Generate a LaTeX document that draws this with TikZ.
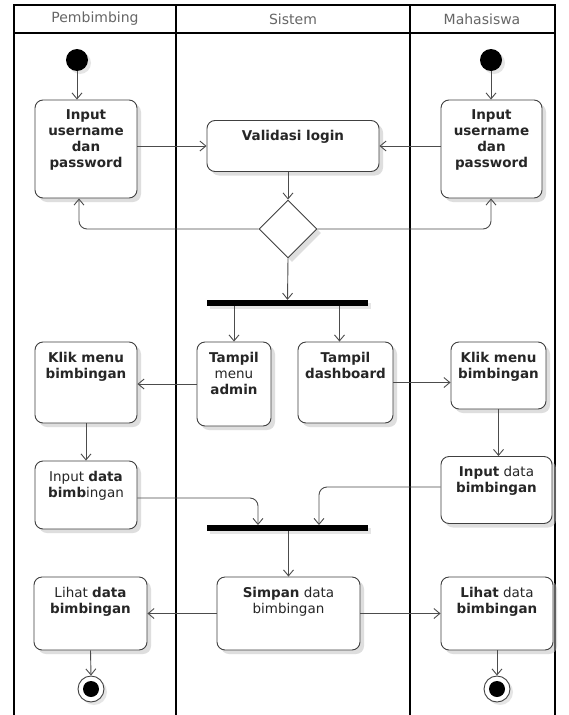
\documentclass[tikz,border=0pt]{standalone}
\usepackage{fontspec}
\setmainfont{DejaVu Sans}
\usetikzlibrary{arrows.meta,shapes.geometric,shadows,calc}
\begin{document}
\begin{tikzpicture}[x=1pt,y=-1pt,
  act/.style={draw=black!75, line width=0.9pt, rounded corners=8pt, fill=white,
    drop shadow={shadow xshift=4pt,shadow yshift=-4pt,fill=black!25,opacity=0.5}, inner sep=0pt},
  lbl/.style={anchor=north, align=center, inner sep=0pt, font=\fontsize{13.5}{16}\selectfont, text=black!85},
  flow/.style={draw=black!70, line width=0.9pt, -{Straight Barb[length=6pt,width=10pt,line width=0.9pt]}},
  bar/.style={fill=black, inner sep=0pt, minimum height=6pt,
    drop shadow={shadow xshift=3pt,shadow yshift=-3pt,fill=black!20,opacity=0.5}},
  lane/.style={draw=black, line width=1.3pt},
  hdr/.style={font=\fontsize{14}{16}\selectfont, text=black!60},
  startdot/.style={circle, fill=black, minimum size=22pt, inner sep=0pt,
    drop shadow={shadow xshift=3pt,shadow yshift=-3pt,fill=black!20,opacity=0.5}},
  endring/.style={circle, draw=black!75, line width=0.9pt, fill=white, minimum size=26pt, inner sep=0pt,
    drop shadow={shadow xshift=3pt,shadow yshift=-3pt,fill=black!20,opacity=0.5}},
  enddot/.style={circle, fill=black, minimum size=16pt, inner sep=0pt}
]
\useasboundingbox (0,0) rectangle (569,715);
\fill[white] (0,0) rectangle (569,715);

% swimlanes
\draw[lane] (14,5) rectangle (555,720);
\draw[lane] (176,5) -- (176,720);
\draw[lane] (410,5) -- (410,720);
\draw[lane] (14,33) -- (555,33);
\node[hdr] (h1) at (95,19) {Pembimbing};
\node[hdr] (h2) at (293,19) {Sistem};
\node[hdr] (h3) at (482,19) {Mahasiswa};

% start
\node[startdot] (sL) at (77,60) {};
\node[startdot] (sR) at (491,60) {};

% input login boxes
\node[act, minimum width=102pt, minimum height=98pt] (inL) at (86,149) {};
\node[lbl] (inLt) at ([yshift=-10pt]inL.north) {\textbf{Input}\\\textbf{username}\\\textbf{dan}\\\textbf{password}};
\node[act, minimum width=101pt, minimum height=98pt] (inR) at (491.5,149) {};
\node[lbl] (inRt) at ([yshift=-10pt]inR.north) {\textbf{Input}\\\textbf{username}\\\textbf{dan}\\\textbf{password}};

\node[act, minimum width=172pt, minimum height=51pt] (val) at (293,146) {};
\node[lbl] (valt) at ([yshift=-10pt]val.north) {\textbf{Validasi login}};

\node[diamond, draw=black!75, line width=0.9pt, fill=white, minimum width=58pt, minimum height=58pt,
  inner sep=0pt, drop shadow={shadow xshift=4pt,shadow yshift=-4pt,fill=black!25,opacity=0.5}] (dia) at (288,229) {};

\node[bar, minimum width=161pt] (fork) at (287.5,303) {};

\node[act, minimum width=74pt, minimum height=84pt] (tma) at (234,384) {};
\node[lbl] (tmat) at ([yshift=-10pt]tma.north) {\textbf{Tampil}\\menu\\\textbf{admin}};
\node[act, minimum width=95pt, minimum height=81pt] (tdb) at (345.5,382.5) {};
\node[lbl] (tdbt) at ([yshift=-10pt]tdb.north) {\textbf{Tampil}\\\textbf{dashboard}};

\node[act, minimum width=102pt, minimum height=81pt] (klL) at (86,382.5) {};
\node[lbl] (klLt) at ([yshift=-10pt]klL.north) {\textbf{Klik menu}\\\textbf{bimbingan}};
\node[act, minimum width=95pt, minimum height=67pt] (klR) at (498.5,375.5) {};
\node[lbl] (klRt) at ([yshift=-10pt]klR.north) {\textbf{Klik menu}\\\textbf{bimbingan}};

\node[act, minimum width=102pt, minimum height=68pt] (idL) at (86,495) {};
\node[lbl] (idLt) at ([yshift=-10pt]idL.north) {Input \textbf{data}\\\textbf{bimb}ingan};
\node[act, minimum width=111pt, minimum height=67pt] (idR) at (496.5,490) {};
\node[lbl] (idRt) at ([yshift=-10pt]idR.north) {\textbf{Input} data\\\textbf{bimbingan}};

\node[bar, minimum width=161pt] (join) at (287.5,528) {};

\node[act, minimum width=143pt, minimum height=73pt] (sim) at (288.5,613.5) {};
\node[lbl] (simt) at ([yshift=-10pt]sim.north) {\textbf{Simpan} data\\bimbingan};
\node[act, minimum width=113pt, minimum height=73pt] (lhL) at (90.5,613.5) {};
\node[lbl] (lhLt) at ([yshift=-10pt]lhL.north) {Lihat \textbf{data}\\\textbf{bimbingan}};
\node[act, minimum width=112pt, minimum height=73pt] (lhR) at (497,613.5) {};
\node[lbl] (lhRt) at ([yshift=-10pt]lhR.north) {\textbf{Lihat} data\\\textbf{bimbingan}};

% end
\node[endring] (eL) at (91,689) {};
\node[enddot] (eLi) at (eL) {};
\node[endring] (eR) at (497,689) {};
\node[enddot] (eRi) at (eR) {};

\coordinate (jL) at (258,525);
\coordinate (jR) at (319,525);

% connectors
\draw[flow] (sL) -- (sL |- inL.north);
\draw[flow] (sR) -- (sR |- inR.north);
\draw[flow] (inL.east |- val.west) -- (val.west);
\draw[flow] (inR.west |- val.east) -- (val.east);
\draw[flow] (val.south -| dia.north) -- (dia.north);
\draw[flow, rounded corners=8pt] (dia.west) -| ([xshift=2pt]sL |- inL.south);
\draw[flow, rounded corners=8pt] (dia.east) -| (sR |- inR.south);
\draw[flow] (dia.south) -- (fork.north);
\draw[flow] (fork.south -| tma.north) -- (tma.north);
\draw[flow] ([xshift=-6pt]fork.south -| tdb.north) -- ([xshift=-6pt]tdb.north);
\draw[flow] (tma.west) -- (tma.west -| klL.east);
\draw[flow] (tdb.east) -- (tdb.east -| klR.west);
\draw[flow] (klL.south) -- (idL.north);
\draw[flow] (klR.south) -- (klR.south |- idR.north);
\draw[flow, rounded corners=8pt] ([yshift=-3pt]idL.east) -| (jL);
\draw[flow, rounded corners=8pt] ([yshift=3pt]idR.west) -| (jR);
\draw[flow] (join.south -| sim.north) -- (sim.north);
\draw[flow] (sim.west) -- (lhL.east);
\draw[flow] (sim.east) -- (lhR.west);
\draw[flow] (lhL.south) -- (eL.north);
\draw[flow] (lhR.south) -- (eR.north);
\end{tikzpicture}
\end{document}
